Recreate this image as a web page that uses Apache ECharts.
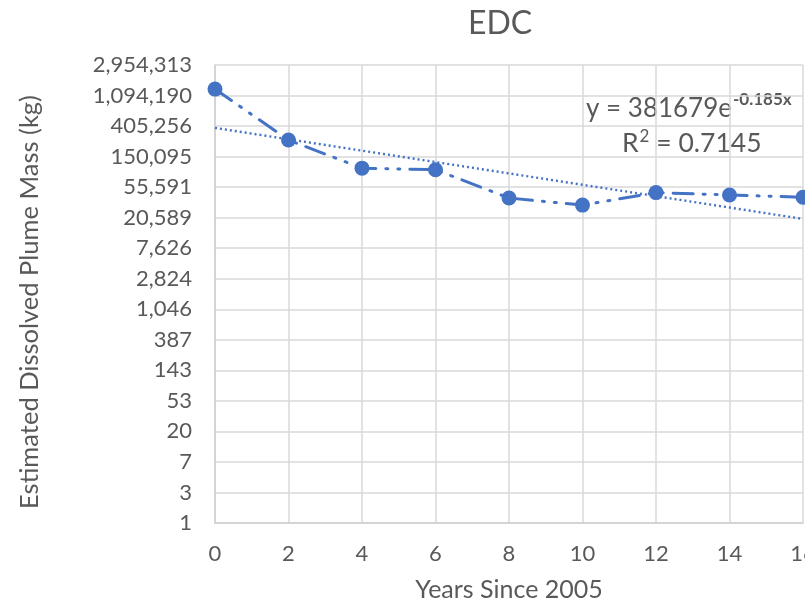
<!DOCTYPE html>
<html>
<head>
<meta charset="utf-8">
<script src="https://cdn.jsdelivr.net/npm/echarts@6/dist/echarts.min.js"></script>
<style>
  html, body { margin: 0; padding: 0; background: #fff; }
  #chart { width: 805px; height: 602px; }
</style>
</head>
<body>
<div id="chart"></div>
<script>
// Years since 2005 and estimated dissolved EDC plume mass (kg)
const years = [0, 2, 4, 6, 8, 10, 12, 14, 16];
const plumeMass = [1350000, 257000, 103000, 98000, 39000, 31000, 46500, 43000, 40000];

// Exponential trendline y = A * e^(B x)
const trendA = 381679;
const trendB = -0.185;
const trendR2 = 0.7145;
const trendRange = [0, 16];

const LOG_BASE = 2.7;
const TEXT = '#595959';
const BLUE = '#4472C4';
const FONT = 'Lato, "Open Sans", sans-serif';

const massPoints = years.map((x, i) => [x, plumeMass[i]]);
const trendPoints = trendRange.map(x => [x, trendA * Math.exp(trendB * x)]);

const chart = echarts.init(document.getElementById('chart'));
chart.setOption({
  backgroundColor: '#fff',
  animation: false,
  textStyle: { fontFamily: FONT },
  title: {
    text: 'EDC',
    left: 495,
    top: 3,
    textAlign: 'center',
    textStyle: { fontFamily: FONT, fontSize: 32, fontWeight: 'normal', color: TEXT }
  },
  grid: { left: 215, right: 2, top: 65, bottom: 79, outerBoundsMode: 'none', containLabel: false },
  xAxis: {
    type: 'value',
    min: 0,
    max: 16,
    interval: 2,
    name: 'Years Since 2005',
    nameLocation: 'middle',
    nameGap: 54,
    nameTextStyle: { fontFamily: FONT, fontSize: 25, color: TEXT },
    axisLine: { lineStyle: { color: '#d0d0d0', width: 1.5 } },
    axisTick: { show: false },
    axisLabel: { fontFamily: FONT, fontSize: 22, color: TEXT, margin: 20 },
    splitLine: { show: true, lineStyle: { color: '#d9d9d9', width: 1.5 } }
  },
  yAxis: {
    type: 'log',
    logBase: LOG_BASE,
    min: 1,
    max: Math.pow(LOG_BASE, 15),
    splitNumber: 15,
    interval: 1,
    name: 'Estimated Dissolved Plume Mass (kg)',
    nameLocation: 'middle',
    nameGap: 172,
    nameTextStyle: { fontFamily: FONT, fontSize: 25.5, color: TEXT, padding: [0, 16, 0, 0] },
    axisLine: { show: true, lineStyle: { color: '#d0d0d0', width: 1.5 } },
    axisTick: { show: false },
    axisLabel: {
      fontFamily: FONT, fontSize: 22, color: TEXT, margin: 23,
      formatter: v => Math.round(v).toLocaleString('en-US')
    },
    splitLine: { show: true, lineStyle: { color: '#d9d9d9', width: 1.5 } }
  },
  series: [
    {
      name: 'Plume mass',
      type: 'line',
      data: massPoints,
      symbol: 'circle',
      symbolSize: 15,
      itemStyle: { color: BLUE },
      lineStyle: { color: BLUE, width: 3, type: [20, 10, 2, 10, 2, 10], cap: 'round' },
      clip: false,
      z: 3
    },
    {
      name: 'Trend',
      type: 'line',
      data: trendPoints,
      symbol: 'none',
      lineStyle: { color: BLUE, width: 2.4, type: [2, 3] },
      z: 2
    }
  ],
  graphic: [
    {
      type: 'text',
      x: 586,
      y: 109,
      style: {
        text: '{b|y = 381679e}{s|-0.185x}',
        verticalAlign: 'middle',
        rich: {
          b: { fontFamily: FONT, fontSize: 26, fill: TEXT, lineHeight: 30 },
          s: { fontFamily: FONT, fontSize: 17, fontWeight: 'bold', fill: TEXT, padding: [0, 0, 18, 1] }
        }
      }
    },
    {
      type: 'text',
      x: 622,
      y: 143.5,
      style: {
        text: '{b|R}{s|2}{b| = ' + trendR2 + '}',
        verticalAlign: 'middle',
        rich: {
          b: { fontFamily: FONT, fontSize: 26.5, fill: TEXT, lineHeight: 30 },
          s: { fontFamily: FONT, fontSize: 17, fill: TEXT, padding: [0, 0, 13, 1] }
        }
      }
    }
  ]
});
</script>
</body>
</html>
